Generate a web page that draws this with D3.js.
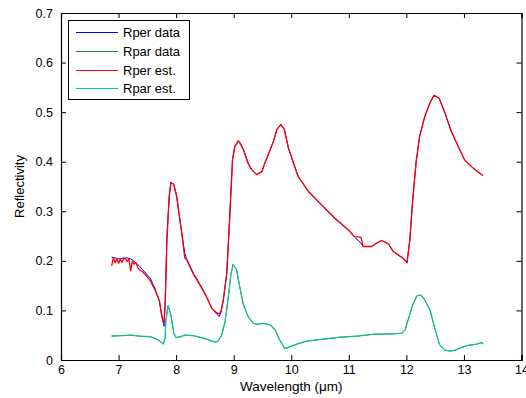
<!DOCTYPE html>
<html><head><meta charset="utf-8">
<script src="https://cdn.jsdelivr.net/npm/d3@7"></script>
<style>body{margin:0;background:#fff}svg{display:block}</style>
</head><body>
<svg id="chart" width="526" height="398"></svg>
<script>
// ---- data ----
const xTicks = [6,7,8,9,10,11,12,13,14];
const yTicks = [0,0.1,0.2,0.3,0.4,0.5,0.6,0.7];
const seriesNames = ["Rper data","Rpar data","Rper est.","Rpar est."];
const seriesColors = ["#0000ff","#1a8c1a","#ff0000","#00bfbf"];

const rperWl = [6.88,6.91,6.94,6.97,7.00,7.03,7.06,7.09,7.12,7.15,7.18,7.21,7.24,7.27,7.30,7.33,7.36,
  7.42,7.55,7.63,7.71,7.75,7.78,7.79,
  7.81,7.84,7.88,7.91,
  7.96,8.01,8.05,8.10,8.15,8.18,8.22,8.30,8.38,8.47,8.54,8.62,8.71,8.75,8.78,8.82,8.88,8.91,8.94,8.98,
  9.02,9.08,9.11,9.17,9.25,9.31,9.40,9.49,9.54,9.60,9.69,9.75,9.82,9.88,9.95,
  10.04,10.12,10.30,10.53,10.76,10.99,11.10,11.21,11.25,11.40,11.47,11.57,11.69,11.77,11.92,11.97,
  12.01,12.06,12.11,12.17,12.23,12.32,12.41,12.48,12.57,12.68,12.78,12.90,13.01,13.16,13.33];
const rperData = [0.207,0.207,0.206,0.205,0.204,0.204,0.205,0.206,0.206,0.206,0.205,0.204,0.202,0.199,0.196,0.193,0.190,
  0.182,0.165,0.145,0.118,0.091,0.074,0.068,
  0.120,0.250,0.330,0.359,
  0.354,0.330,0.295,0.255,0.215,0.205,0.195,0.175,0.160,0.141,0.125,0.104,0.092,0.088,0.096,0.121,0.175,0.240,0.310,0.404,
  0.431,0.442,0.438,0.424,0.397,0.384,0.374,0.380,0.397,0.414,0.441,0.465,0.475,0.465,0.428,
  0.397,0.370,0.339,0.312,0.285,0.262,0.248,0.236,0.229,0.229,0.235,0.241,0.234,0.219,0.207,0.202,
  0.196,0.242,0.323,0.400,0.451,0.491,0.519,0.534,0.528,0.495,0.461,0.431,0.404,0.387,0.372];
const rperEst = [0.190,0.206,0.196,0.204,0.195,0.203,0.197,0.205,0.204,0.199,0.204,0.180,0.200,0.193,0.197,0.188,0.182,
  0.178,0.160,0.142,0.120,0.088,0.076,0.078,
  0.110,0.240,0.330,0.358,
  0.354,0.330,0.295,0.255,0.206,0.203,0.193,0.173,0.158,0.140,0.124,0.104,0.095,0.093,0.099,0.121,0.175,0.240,0.310,0.404,
  0.431,0.442,0.438,0.424,0.397,0.384,0.374,0.380,0.397,0.414,0.441,0.465,0.475,0.465,0.428,
  0.397,0.370,0.340,0.313,0.286,0.263,0.249,0.248,0.229,0.229,0.235,0.241,0.234,0.219,0.207,0.202,
  0.196,0.242,0.323,0.400,0.451,0.491,0.519,0.534,0.528,0.495,0.461,0.431,0.404,0.387,0.372];

const rparWl = [6.88,7.03,7.23,7.37,7.55,7.63,7.72,7.78,7.81,7.82,7.86,7.91,7.96,8.00,8.07,8.15,8.30,8.41,8.53,
  8.62,8.68,8.73,8.79,8.85,8.91,8.95,8.99,9.05,9.11,9.17,9.25,9.34,9.41,9.49,9.56,9.63,9.72,9.80,9.89,9.98,
  10.12,10.27,10.41,10.56,10.85,11.14,11.43,11.72,11.92,11.98,12.03,12.11,12.18,12.24,12.28,12.32,12.41,
  12.50,12.58,12.67,12.76,12.85,12.93,13.05,13.22,13.31,13.34];
const rparData = [0.0485,0.049,0.050,0.048,0.047,0.044,0.038,0.032,0.045,0.077,0.110,0.091,0.054,0.045,0.047,0.050,0.049,0.046,0.042,
  0.038,0.036,0.038,0.050,0.077,0.131,0.172,0.193,0.182,0.145,0.111,0.088,0.074,0.072,0.074,0.073,0.071,0.061,0.040,0.023,0.027,
  0.033,0.038,0.040,0.042,0.046,0.048,0.052,0.0525,0.054,0.061,0.081,0.111,0.129,0.131,0.128,0.121,0.101,
  0.061,0.030,0.020,0.018,0.020,0.024,0.029,0.032,0.035,0.032];
const rparEst = [0.0480,0.049,0.050,0.048,0.047,0.044,0.038,0.032,0.045,0.077,0.110,0.091,0.054,0.045,0.047,0.050,0.049,0.046,0.042,
  0.038,0.036,0.038,0.050,0.077,0.131,0.172,0.193,0.182,0.145,0.111,0.088,0.074,0.072,0.074,0.073,0.071,0.061,0.040,0.023,0.027,
  0.033,0.038,0.040,0.042,0.046,0.048,0.052,0.0525,0.054,0.061,0.081,0.111,0.129,0.131,0.128,0.121,0.101,
  0.061,0.030,0.020,0.018,0.020,0.024,0.029,0.032,0.035,0.032];

// ---- layout ----
const svg = d3.select("#chart");
const L = 61, R = 521.5, T = 13, B = 360;
const x = d3.scaleLinear().domain([6,14]).range([L,R]);
const y = d3.scaleLinear().domain([0,0.7]).range([B,T]);
const font = "Arial, 'Liberation Sans', sans-serif";

const zip = (xs, ys) => xs.map((v,i)=>[v, ys[i]]);
const line = d3.line().x(d=>x(d[0])).y(d=>y(d[1]));

const series = [
  {pts: zip(rperWl, rperData), color: seriesColors[0], op: 1, w: 1},
  {pts: zip(rparWl, rparData), color: seriesColors[1], op: 1, w: 1},
  {pts: zip(rperWl, rperEst), color: seriesColors[2], op: 1, w: 1.3},
  {pts: zip(rparWl, rparEst), color: "#10bfa6", op: 0.92, w: 1.2}
];
series.forEach(s => {
  svg.append("path").attr("d", line(s.pts)).attr("fill","none")
    .attr("stroke", s.color).attr("stroke-width",s.w).attr("stroke-opacity", s.op)
    .attr("stroke-linejoin","round");
});

// axes (MATLAB style: ticks inside, box)
const tl = 5;
const gB = svg.append("g").attr("transform",`translate(0,${B})`)
  .call(d3.axisBottom(x).tickValues(xTicks).tickSize(-tl).tickPadding(5).tickFormat(d3.format("d")));
const gT = svg.append("g").attr("transform",`translate(0,${T})`)
  .call(d3.axisTop(x).tickValues(xTicks).tickSize(-tl).tickFormat(""));
const gL = svg.append("g").attr("transform",`translate(${L},0)`)
  .call(d3.axisLeft(y).tickValues(yTicks).tickSize(-tl).tickPadding(8).tickFormat(d=> d===0 ? "0" : d3.format(".1f")(d)));
const gR = svg.append("g").attr("transform",`translate(${R},0)`)
  .call(d3.axisRight(y).tickValues(yTicks).tickSize(-tl).tickFormat(""));
[gB,gT,gL,gR].forEach(g=>{
  g.select(".domain").attr("stroke","#000").attr("stroke-width",1.2);
  g.selectAll(".tick line").attr("stroke","#000").attr("stroke-width",1);
  g.selectAll("text").attr("font-family",font).attr("font-size","12.5px").attr("fill","#000");
});

// axis labels
svg.append("text").attr("x", (L+R)/2).attr("y", 391).attr("text-anchor","middle")
  .attr("font-family",font).attr("font-size","13.5px").text("Wavelength (\u03bcm)");
svg.append("text").attr("transform",`translate(24,${(T+B)/2}) rotate(-90)`).attr("text-anchor","middle")
  .attr("font-family",font).attr("font-size","13px").text("Reflectivity");

// legend
const lg = svg.append("g");
lg.append("rect").attr("x",68.5).attr("y",20.5).attr("width",121).attr("height",79)
  .attr("fill","#fff").attr("stroke","#000").attr("stroke-width",1);
seriesNames.forEach((n,i)=>{
  const yy = Math.round(31.7 + i*18.9) + 0.5;
  lg.append("line").attr("x1",76).attr("x2",118).attr("y1",yy).attr("y2",yy)
    .attr("stroke", seriesColors[i]).attr("stroke-width",1);
  lg.append("text").attr("x",123).attr("y",yy).attr("dy","0.36em")
    .attr("font-family",font).attr("font-size","13px").text(n);
});
</script>
</body></html>
